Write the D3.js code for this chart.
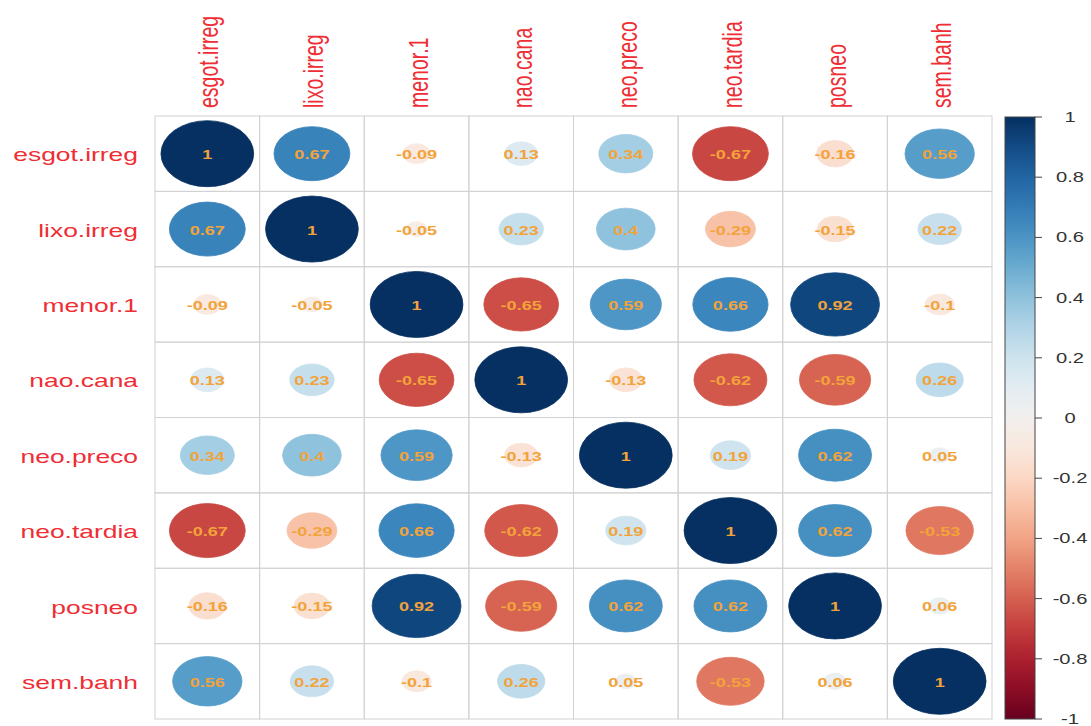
<!DOCTYPE html>
<html>
<head>
<meta charset="utf-8">
<script src="https://cdn.jsdelivr.net/npm/d3@7"></script>
<style>
  html, body { margin: 0; padding: 0; background: #fff; }
  svg { display: block; font-family: "Liberation Sans", Arial, sans-serif; }
</style>
</head>
<body>
<div id="chart"></div>
<script>
// Variables (rows and columns share the same order).
const vars = ["esgot.irreg", "lixo.irreg", "menor.1", "nao.cana", "neo.preco", "neo.tardia", "posneo", "sem.banh"];

// Correlation matrix, one row per variable.
const esgotIrreg = [1, 0.67, -0.09, 0.13, 0.34, -0.67, -0.16, 0.56];
const lixoIrreg  = [0.67, 1, -0.05, 0.23, 0.4, -0.29, -0.15, 0.22];
const menor1     = [-0.09, -0.05, 1, -0.65, 0.59, 0.66, 0.92, -0.1];
const naoCana    = [0.13, 0.23, -0.65, 1, -0.13, -0.62, -0.59, 0.26];
const neoPreco   = [0.34, 0.4, 0.59, -0.13, 1, 0.19, 0.62, 0.05];
const neoTardia  = [-0.67, -0.29, 0.66, -0.62, 0.19, 1, 0.62, -0.53];
const posneo     = [-0.16, -0.15, 0.92, -0.59, 0.62, 0.62, 1, 0.06];
const semBanh    = [0.56, 0.22, -0.1, 0.26, 0.05, -0.53, 0.06, 1];
const matrix = [esgotIrreg, lixoIrreg, menor1, naoCana, neoPreco, neoTardia, posneo, semBanh];

// Colour legend ticks.
const legendTicks = [1, 0.8, 0.6, 0.4, 0.2, 0, -0.2, -0.4, -0.6, -0.8, -1];

const width = 1091;
const height = 726;
const grid = {left: 155, right: 992, top: 116, bottom: 719};
const stretch = 1.39; // picture is wider than tall, text gets squashed the same way

const svg = d3.select("#chart")
    .append("svg")
    .attr("width", width)
    .attr("height", height);

const x = d3.scaleBand().domain(vars).range([grid.left, grid.right]);
const y = d3.scaleBand().domain(vars).range([grid.top, grid.bottom]);
const color = d3.scaleSequential(d3.interpolateRdBu).domain([-1, 1]);

const cells = [];
matrix.forEach((row, i) => row.forEach((v, j) => cells.push({row: vars[i], col: vars[j], v})));

// Grid cells.
svg.append("g")
    .selectAll("rect")
    .data(cells)
    .join("rect")
    .attr("x", d => x(d.col))
    .attr("y", d => y(d.row))
    .attr("width", x.bandwidth())
    .attr("height", y.bandwidth())
    .attr("fill", "none")
    .attr("stroke", "#d2d2d2")
    .attr("stroke-width", 1);

// Circles (stretched into ellipses like the picture).
svg.append("g")
    .selectAll("ellipse")
    .data(cells)
    .join("ellipse")
    .attr("cx", d => x(d.col) + x.bandwidth() / 2)
    .attr("cy", d => y(d.row) + y.bandwidth() / 2)
    .attr("rx", d => 0.443 * x.bandwidth() * Math.sqrt(Math.abs(d.v)))
    .attr("ry", d => 0.438 * y.bandwidth() * Math.sqrt(Math.abs(d.v)))
    .attr("fill", d => color(d.v))
    .attr("stroke", d => color(d.v))
    .attr("stroke-width", 0.8);

// Numbers.
svg.append("g")
    .selectAll("text")
    .data(cells)
    .join("text")
    .attr("transform", d => `translate(${x(d.col) + x.bandwidth() / 2},${y(d.row) + y.bandwidth() / 2 + 1}) scale(${stretch},1)`)
    .attr("text-anchor", "middle")
    .attr("dominant-baseline", "central")
    .attr("font-size", "13px")
    .attr("font-weight", "bold")
    .attr("fill", "#f2a33a")
    .text(d => String(d.v));

// Row labels.
svg.append("g")
    .selectAll("text")
    .data(vars)
    .join("text")
    .attr("transform", d => `translate(${grid.left - 17},${y(d) + y.bandwidth() / 2 + 1}) scale(${stretch},1)`)
    .attr("text-anchor", "end")
    .attr("dominant-baseline", "central")
    .attr("font-size", "19px")
    .attr("fill", "#ee2e34")
    .text(d => d);

// Column labels.
svg.append("g")
    .selectAll("text")
    .data(vars)
    .join("text")
    .attr("transform", d => `translate(${x(d) + x.bandwidth() / 2 + 2},${grid.top - 8}) scale(${stretch},1) rotate(-90)`)
    .attr("text-anchor", "start")
    .attr("dominant-baseline", "central")
    .attr("font-size", "19.5px")
    .attr("fill", "#ee2e34")
    .text(d => d);

// Colour legend.
const bar = {x: 1005, w: 30, top: 117, bottom: 719};
const ly = d3.scaleLinear().domain([-1, 1]).range([bar.bottom, bar.top]);

const grad = svg.append("defs").append("linearGradient")
    .attr("id", "rdbu")
    .attr("x1", 0).attr("y1", 1).attr("x2", 0).attr("y2", 0);
grad.selectAll("stop")
    .data(d3.range(0, 1.0001, 0.05))
    .join("stop")
    .attr("offset", d => d)
    .attr("stop-color", d => color(d * 2 - 1));

svg.append("rect")
    .attr("x", bar.x)
    .attr("y", bar.top)
    .attr("width", bar.w)
    .attr("height", bar.bottom - bar.top)
    .attr("fill", "url(#rdbu)")
    .attr("stroke", "#444")
    .attr("stroke-width", 1);

svg.append("g")
    .selectAll("line")
    .data(legendTicks)
    .join("line")
    .attr("x1", bar.x + bar.w).attr("x2", bar.x + bar.w + 7)
    .attr("y1", d => ly(d)).attr("y2", d => ly(d))
    .attr("stroke", "#444")
    .attr("stroke-width", 1);

svg.append("g")
    .selectAll("text")
    .data(legendTicks)
    .join("text")
    .attr("transform", d => `translate(1070,${ly(d)}) scale(${stretch},1)`)
    .attr("text-anchor", "middle")
    .attr("dominant-baseline", "central")
    .attr("font-size", "14.5px")
    .attr("fill", "#333")
    .text(d => String(d));
</script>
</body>
</html>
